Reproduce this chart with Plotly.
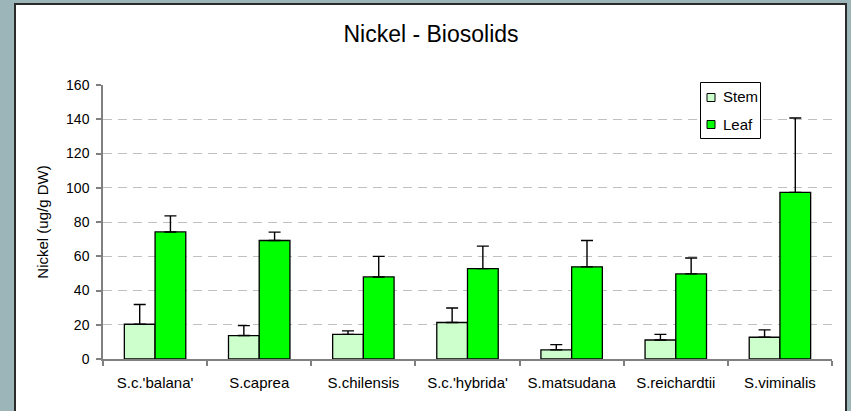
import plotly.graph_objects as go

# datos
species = ["S.c.'balana'", "S.caprea", "S.chilensis", "S.c.'hybrida'",
           "S.matsudana", "S.reichardtii", "S.viminalis"]
stem = [20.3, 13.7, 14.4, 21.3, 5.3, 11.1, 12.7]
stem_err = [11.5, 5.8, 2.0, 8.5, 3.1, 3.3, 4.3]
leaf = [74.2, 69.2, 47.9, 52.8, 53.8, 49.7, 97.3]
leaf_err = [9.4, 4.9, 12.0, 13.1, 15.4, 9.3, 43.4]
y_ticks = [0, 20, 40, 60, 80, 100, 120, 140, 160]

W, H = 851, 411
L, R, T, B = 103, 19, 85, 52
PW, PH = W - L - R, H - T - B
FONT = "Liberation Sans, Arial, sans-serif"


def px(x):
    return (x - L) / PW


def py(y):
    return (H - B - y) / PH


fig = go.Figure()
fig.add_trace(go.Bar(
    x=species, y=stem, name="Stem",
    marker=dict(color="#CCFFCC", line=dict(color="black", width=1.3)),
    error_y=dict(type="data", array=stem_err, arrayminus=[0] * len(stem),
                 symmetric=False, color="black", thickness=1.4, width=6),
))
fig.add_trace(go.Bar(
    x=species, y=leaf, name="Leaf",
    marker=dict(color="#00FF00", line=dict(color="black", width=1.3)),
    error_y=dict(type="data", array=leaf_err, arrayminus=[0] * len(leaf),
                 symmetric=False, color="black", thickness=1.4, width=6),
))

shapes = [
    # panel blanco con borde
    dict(type="rect", xref="paper", yref="paper", layer="below",
         x0=px(15), x1=px(846), y0=py(4), y1=py(420),
         fillcolor="white", line=dict(color="#2b2b2b", width=2)),
    # leyenda
    dict(type="rect", xref="paper", yref="paper",
         x0=px(700.5), x1=px(760.5), y0=py(82.5), y1=py(138.5),
         fillcolor="white", line=dict(color="black", width=1)),
    dict(type="rect", xref="paper", yref="paper",
         x0=px(707), x1=px(715), y0=py(93.5), y1=py(101.5),
         fillcolor="#CCFFCC", line=dict(color="black", width=1)),
    dict(type="rect", xref="paper", yref="paper",
         x0=px(707), x1=px(715), y0=py(120.5), y1=py(128.5),
         fillcolor="#00FF00", line=dict(color="black", width=1)),
]

annotations = [
    dict(x=px(721), y=py(97), xref="paper", yref="paper", text="Stem",
         showarrow=False, xanchor="left", yanchor="middle",
         font=dict(size=15, color="black")),
    dict(x=px(721), y=py(124), xref="paper", yref="paper", text="Leaf",
         showarrow=False, xanchor="left", yanchor="middle",
         font=dict(size=15, color="black")),
]

fig.update_layout(
    width=W, height=H,
    margin=dict(l=L, r=R, t=T, b=B),
    paper_bgcolor="#9CB5B9",
    plot_bgcolor="white",
    font=dict(family=FONT, color="black"),
    title=dict(text="Nickel - Biosolids", x=431 / W, xanchor="center",
               y=1 - 34 / H, yanchor="middle", font=dict(size=23)),
    barmode="group", bargap=0.41, bargroupgap=0,
    showlegend=False,
    shapes=shapes,
    annotations=annotations,
    xaxis=dict(showline=True, linecolor="#808080", linewidth=1.5,
               ticks="outside", tickson="boundaries", ticklen=5,
               tickcolor="#808080", tickwidth=1.5, ticklabelstandoff=9,
               tickfont=dict(size=15), showgrid=False),
    yaxis=dict(range=[0, 160], tickvals=y_ticks, showline=True,
               linecolor="#808080", linewidth=1.5,
               ticks="outside", ticklen=5, tickcolor="#808080", tickwidth=1.5,
               tickfont=dict(size=14), ticklabelstandoff=4,
               showgrid=True, gridcolor="#C0C0C0", gridwidth=1,
               griddash="9px,6px", zeroline=False,
               title=dict(text="Nickel (ug/g DW)", font=dict(size=15),
                          standoff=14)),
)

# quitar el margen del body para que la figura empiece en (0, 0)
fig.write_html("out.html",
               config={"displayModeBar": False},
               post_script="document.body.style.margin='0';"
                           "document.body.style.background='#9CB5B9';")
